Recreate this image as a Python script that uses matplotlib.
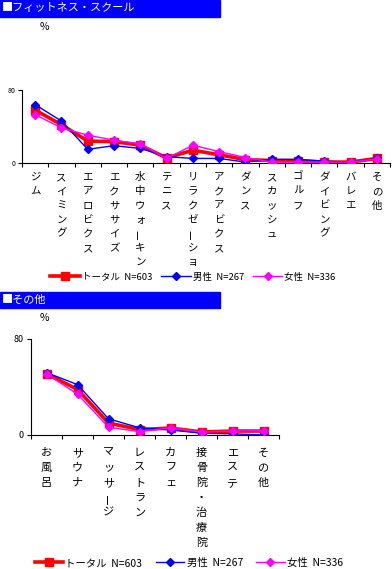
import matplotlib
matplotlib.use("Agg")
from matplotlib import pyplot as plt
from matplotlib import transforms
from matplotlib.patches import Rectangle

plt.rcParams['font.family'] = ['Noto Sans CJK JP', 'DejaVu Sans']

# fitness school (labels as shown, cut at 7 rows)
fit_cats = ['ジム', 'スイミング', 'エアロビクス', 'エクササイズ', '水中ウォーキン', 'テニス',
            'リラクゼーショ', 'アクアビクス', 'ダンス', 'スカッシュ', 'ゴルフ',
            'ダイビング', 'バレエ', 'その他']
fit_total = [58, 42, 24, 23.5, 19.5, 5.5, 14, 9, 3.7, 2.7, 2.5, 1, 1, 5]
fit_male = [64, 46, 15, 19, 16, 7, 5, 5, 1, 4, 4, 2, 1, 5]
fit_female = [53, 38.5, 30.5, 25, 21, 5, 19.5, 12.5, 6, 1, 1, 1, 1, 4.5]

# other
oth_cats = ['お風呂', 'サウナ', 'マッサージ', 'レストラン', 'カフェ', '接骨院・治療院', 'エステ', 'その他']
oth_total = [51, 38, 10, 4.5, 5.8, 2.5, 3.3, 3.3]
oth_male = [52, 42, 13.5, 6, 4.2, 1.5, 1, 0]
oth_female = [51, 34, 6.5, 2.8, 6, 2.5, 3.3, 3.6]

legend_labels = ['トータル  N=603', '男性  N=267', '女性  N=336']

W, H = 392, 569
fig = plt.figure(figsize=(W / 100, H / 100), dpi=100)


def px_axes(l, t, r, b):
    return fig.add_axes([l / W, 1 - b / H, (r - l) / W, (b - t) / H])


def title_bar(y0, y1, text):
    fig.patches.append(Rectangle((0, 1 - y1 / H), 220 / W, (y1 - y0) / H,
                                 transform=fig.transFigure, color='#0000FF', zorder=0))
    fig.text(2 / W, 1 - (y0 + y1) / 2 / H, '■' + text, color='white', fontsize=8,
             va='center', ha='left')


def draw_chart(ax, cats, total, male, female, fs_tick, fs_lab, lab_y0, lab_step):
    n = len(cats)
    x = [i + 0.5 for i in range(n)]
    ax.plot(x, total, color='#FF0000', lw=2.6, marker='s', ms=5.5, zorder=3)
    ax.plot(x, male, color='#0000FF', lw=1, marker='D', ms=4.5, zorder=4)
    ax.plot(x, female, color='#FF00FF', lw=1, marker='D', ms=4.5, zorder=5)
    ax.set_xlim(0, n)
    ax.set_ylim(0, 80)
    ax.set_yticks([0, 80])
    ax.set_yticklabels(['0', '80'], fontsize=fs_tick)
    ax.set_xticks(range(n + 1))
    ax.set_xticklabels([])
    ax.tick_params(length=3, width=0.8, pad=2)
    for s in ['top', 'right']:
        ax.spines[s].set_visible(False)
    for s in ['left', 'bottom']:
        ax.spines[s].set_linewidth(0.8)
    ax.patch.set_alpha(0)
    tr = transforms.blended_transform_factory(ax.transData, fig.transFigure)
    for i, lab in enumerate(cats):
        for j, ch in enumerate(lab):
            rot = 90 if ch == 'ー' else 0
            ax.text(i + 0.5, 1 - (lab_y0 + j * lab_step) / H, ch, transform=tr,
                    ha='center', va='center', fontsize=fs_lab, rotation=rot)


def legend_handles():
    return [plt.Line2D([], [], color='#FF0000', lw=2.6, marker='s', ms=5.5),
            plt.Line2D([], [], color='#0000FF', lw=1, marker='D', ms=4.5),
            plt.Line2D([], [], color='#FF00FF', lw=1, marker='D', ms=4.5)]


# top chart
title_bar(0, 17, 'フィットネス・スクール')
fig.text(44 / W, 1 - 27 / H, '%', fontsize=7.5, ha='center', va='center')
ax1 = px_axes(22, 90, 390, 163)
draw_chart(ax1, fit_cats, fit_total, fit_male, fit_female, 5, 7.5, 177, 14.2)
fig.legend(legend_handles(), legend_labels, loc='center',
           bbox_to_anchor=(193 / W, 1 - 277 / H), ncol=3, frameon=False, fontsize=6.8,
           handlelength=3.1, handletextpad=0.2, columnspacing=1.0, borderpad=0)

# bottom chart
title_bar(292, 308, 'その他')
fig.text(44 / W, 1 - 318 / H, '%', fontsize=7.5, ha='center', va='center')
ax2 = px_axes(31, 339, 279, 435)
draw_chart(ax2, oth_cats, oth_total, oth_male, oth_female, 6.5, 8, 453, 15)
fig.legend(legend_handles(), legend_labels, loc='center',
           bbox_to_anchor=(189 / W, 1 - 563 / H), ncol=3, frameon=False, fontsize=7.5,
           handlelength=2.7, handletextpad=0.25, columnspacing=1.3, borderpad=0)

fig.savefig('out.png', dpi=100)
